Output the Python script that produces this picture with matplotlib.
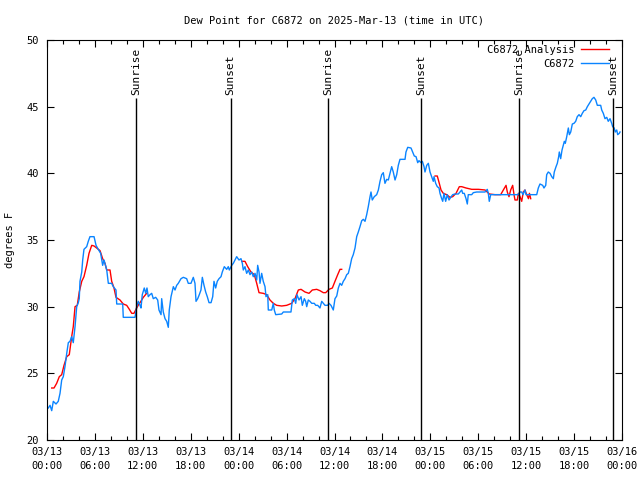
import matplotlib
matplotlib.use("Agg")
import matplotlib.pyplot as plt
import matplotlib.dates as mdates
import numpy as np
import pandas as pd

# --- data (hours after 2025-03-13 00:00 UTC, dew point in F) ---
start = pd.Timestamp("2025-03-13 00:00")

obs_hours = [
    0.16, 0.38, 0.59, 0.79, 1.13, 1.41, 1.63, 1.84, 2.04, 2.25, 2.47, 2.67, 2.88, 3.09, 3.29,
    3.51, 3.72, 3.92, 4.04, 4.13, 4.35, 4.47, 4.63, 4.97, 5.17, 5.38, 5.89, 6.14, 6.42, 6.72,
    6.97, 7.14, 7.48, 7.68, 8.10, 8.30, 8.64, 8.73, 9.48, 9.55, 11.02, 11.23, 11.43, 11.65,
    11.77, 11.93, 12.18, 12.36, 12.52, 12.68, 12.90, 13.11, 13.31, 13.61, 13.86, 14.02, 14.28,
    14.36, 14.56, 14.78, 14.99, 15.19, 15.31, 15.53, 15.82, 16.03, 16.24, 16.44, 16.78, 17.07,
    17.49, 17.69, 18.03, 18.32, 18.53, 18.66, 18.87, 19.07, 19.28, 19.45, 19.66, 19.87, 20.07,
    20.29, 20.54, 20.75, 20.91, 21.12, 21.32, 21.54, 21.79, 21.95, 22.20, 22.50, 22.70, 22.83,
    23.13, 23.33, 23.54, 23.75, 24.04, 24.29, 24.46, 24.58, 24.79, 25.00, 25.21, 25.42, 25.63,
    25.83, 26.05, 26.26, 26.38, 26.55, 26.67, 26.88, 27.08, 27.30, 27.42, 27.64, 27.71, 28.14,
    28.34, 28.46, 28.64, 29.39, 29.59, 30.55, 30.72, 30.97, 31.14, 31.30, 31.56, 31.81, 31.97,
    32.22, 32.39, 32.52, 32.72, 32.93, 33.15, 33.47, 33.65, 33.90, 34.18, 34.40, 34.60, 34.81,
    35.15, 35.31, 35.56, 35.85, 36.06, 36.28, 36.48, 36.69, 36.90, 37.10, 37.32, 37.53, 37.73,
    37.94, 38.15, 38.35, 38.57, 38.78, 38.98, 39.19, 39.41, 39.61, 39.82, 40.03, 40.23, 40.45,
    40.57, 40.73, 40.98, 41.28, 41.49, 41.70, 41.91, 42.11, 42.32, 42.54, 42.74, 42.95, 43.16,
    43.36, 43.58, 43.79, 43.99, 44.20, 44.83, 44.95, 45.17, 45.58, 45.79, 45.99, 46.21, 46.42,
    46.58, 46.83, 47.00, 47.21, 47.33, 47.55, 47.75, 47.96, 48.17, 48.37, 48.46, 48.67, 48.87,
    49.09, 49.21, 49.42, 49.55, 49.71, 49.92, 50.12, 50.34, 50.55, 50.80, 51.09, 51.50, 51.72,
    51.93, 52.05, 52.25, 52.47, 52.63, 52.75, 53.18, 53.38, 53.81, 54.85, 55.13, 55.26, 55.38,
    55.56, 56.31, 57.98, 58.98, 59.23, 59.44, 59.60, 59.85, 59.98, 61.32, 61.52, 61.73, 62.07,
    62.23, 62.45, 62.57, 62.77, 62.99, 63.20, 63.40, 63.52, 63.74, 63.90, 64.07, 64.15, 64.32,
    64.49, 64.65, 64.78, 64.90, 65.08, 65.28, 65.41, 65.58, 65.78, 65.99, 66.20, 66.40, 66.62,
    66.83, 67.03, 67.24, 67.46, 67.66, 67.87, 68.08, 68.28, 68.49, 68.71, 68.91, 69.33, 69.46,
    69.66, 69.87, 70.09, 70.28, 70.50, 70.71, 70.83, 71.02, 71.16, 71.34, 71.46, 71.66, 71.75,
]
obs_dewpt = [
    22.4, 22.6, 22.2, 22.9, 22.7, 22.9, 23.5, 24.5, 24.75, 25.5, 26.5, 27.3, 27.4, 27.75, 27.3,
    28.5, 30.0, 30.3, 30.6, 31.9, 32.6, 33.5, 34.3, 34.5, 34.9, 35.25, 35.25, 34.6, 34.3, 34.0,
    33.1, 33.5, 32.75, 31.75, 31.75, 31.5, 31.25, 30.2, 30.2, 29.2, 29.2, 30.0, 30.4, 30.1,
    29.9, 30.9, 31.4, 31.0, 31.4, 30.75, 30.9, 31.0, 30.6, 30.7, 30.5, 29.75, 29.4,
    30.6, 29.6, 29.1, 28.9, 28.45, 29.75, 30.75, 31.5, 31.25, 31.6, 31.75, 32.1, 32.2,
    32.1, 31.75, 31.75, 32.2, 31.75, 30.4, 30.6, 30.9, 31.25, 32.2, 31.6, 31.1, 30.75,
    30.3, 30.3, 30.75, 31.9, 31.4, 31.9, 32.1, 32.25, 32.6, 33.0, 32.8, 33.0, 32.75,
    33.1, 33.25, 33.5, 33.75, 33.5, 33.6, 33.25, 32.75, 33.0, 32.5, 32.75, 32.4, 32.6,
    32.25, 32.5, 32.0, 33.1, 32.6, 31.75, 32.5, 31.9, 31.5, 30.75, 30.9, 29.75, 29.75,
    30.25, 29.75, 29.4, 29.45, 29.6, 29.6, 30.5, 30.6, 30.25, 30.9, 30.5, 30.75, 30.1,
    30.6, 30.4, 30.0, 30.5, 30.4, 30.25, 30.25, 30.1, 30.1, 29.9, 30.4, 30.25, 30.1,
    30.1, 30.25, 30.1, 29.75, 30.6, 30.8, 31.4, 31.75, 31.6, 31.9, 32.1, 32.4, 32.5,
    33.0, 33.6, 33.9, 34.4, 35.25, 35.6, 36.0, 36.45, 36.55, 36.4, 36.9, 37.5, 38.25,
    38.6, 38.0, 38.25, 38.4, 38.75, 39.4, 39.9, 40.05, 39.25, 39.55, 39.5, 40.0, 40.5,
    40.1, 39.5, 39.9, 40.6, 41.05, 41.05, 41.6, 41.95, 41.9, 41.6, 41.3, 41.25, 40.8,
    40.95, 40.8, 40.9, 40.5, 40.1, 40.6, 40.75, 40.1, 39.75, 39.4, 39.75, 39.25, 39.0,
    38.9, 38.5, 38.1, 37.9, 38.5, 37.9, 38.4, 38.0, 38.2, 38.4, 38.45, 38.45, 38.6,
    38.75, 38.5, 38.5, 38.1, 37.7, 38.4, 38.4, 38.55, 38.6, 38.6, 38.8, 38.5, 37.9,
    38.4, 38.4, 38.4, 38.4, 38.6, 38.6, 38.4, 38.75, 38.4, 38.4, 38.9, 39.2, 39.1,
    38.9, 39.1, 39.9, 40.1, 40.0, 39.75, 39.6, 40.1, 40.5, 40.75, 41.25, 41.6, 41.1,
    41.75, 42.1, 42.4, 42.25, 42.75, 43.4, 42.9, 43.1, 43.7, 43.75, 43.9, 44.25, 44.4,
    44.25, 44.5, 44.7, 44.75, 45.0, 45.2, 45.4, 45.6, 45.7, 45.5, 45.1, 45.1, 44.75,
    44.5, 44.1, 44.2, 43.9, 44.1, 43.75, 43.5, 43.4, 43.1, 43.25, 42.9, 43.0, 43.1,
]

# analysis has gaps (NaN breaks the line)
ana_hours = [
    0.59, 0.88, 1.21, 1.54, 1.84, 2.13, 2.47, 2.79, 3.09, 3.29, 3.51, 3.79, 4.04, 4.35, 4.63,
    4.97, 5.26, 5.60, 5.89, 6.22, 6.64, 6.97, 7.26, 7.48, 7.89, 8.10, 8.39, 8.64, 9.14, 9.55,
    9.98, 10.31, 10.61, 10.89, 11.23, 11.56, 11.65, 12.06, 12.48,
    18.0,
    24.38, 24.79, 25.13, 25.54, 25.96, 26.26, 26.55, 27.08, 27.51, 27.92, 28.34, 28.76, 29.39,
    30.01, 30.64, 31.05, 31.47, 31.81, 32.31, 32.81, 33.22, 33.77, 34.18, 34.60, 34.90, 35.31,
    35.73, 36.06, 36.40, 36.69, 36.90,
    42.0,
    48.59, 48.87, 49.12, 49.34, 49.62, 50.05, 50.46, 50.80, 51.22, 51.63, 51.93, 52.47, 53.18,
    54.01, 54.85, 55.38, 56.10, 56.81, 57.14, 57.48, 57.64, 57.85, 58.06, 58.31, 58.48, 58.60,
    58.89, 59.02, 59.23, 59.44, 59.64, 59.85, 60.07, 60.29, 60.41, 60.57,
]
ana_dewpt = [
    23.9, 23.9, 24.25, 24.75, 24.9, 25.6, 26.25, 26.4, 27.75, 28.5, 30.0, 30.1, 31.1, 31.9, 32.25,
    33.1, 34.0, 34.6, 34.55, 34.4, 34.2, 33.6, 33.25, 32.75, 32.75, 31.9, 31.4, 30.7, 30.5, 30.2,
    30.1, 29.8, 29.5, 29.5, 29.9, 30.25, 30.3, 30.7, 31.0,
    np.nan,
    33.4, 33.4, 33.0, 32.6, 32.4, 31.75, 31.05, 31.0, 30.9, 30.5, 30.25, 30.1, 30.05,
    30.1, 30.25, 30.6, 31.25, 31.3, 31.1, 31.0, 31.25, 31.3, 31.2, 31.05, 31.05, 31.3,
    31.4, 31.9, 32.4, 32.8, 32.8,
    np.nan,
    39.8, 39.8, 39.25, 38.75, 38.5, 38.4, 38.2, 38.25, 38.5, 39.0, 39.0, 38.9, 38.8,
    38.8, 38.75, 38.45, 38.4, 38.4, 38.75, 39.1, 38.6, 38.25, 38.75, 39.1, 38.4, 38.0,
    38.0, 38.5, 38.25, 37.9, 38.6, 38.75, 38.4, 38.1, 38.5, 38.1,
]

sun_hours = [11.14, 23.0, 35.16, 46.87, 59.14, 70.92]
sun_labels = ["Sunrise", "Sunset", "Sunrise", "Sunset", "Sunrise", "Sunset"]

station = "C6872"

obs_t = start + pd.to_timedelta(obs_hours, unit="h")
ana_t = start + pd.to_timedelta(ana_hours, unit="h")
sun_t = start + pd.to_timedelta(sun_hours, unit="h")

plt.rcParams["font.family"] = ["DejaVu Sans Mono"]
plt.rcParams["font.size"] = 7.5

fig = plt.figure(figsize=(6.4, 4.8), dpi=100)
ax = fig.add_axes([47 / 640, 40 / 480, 575 / 640, 400 / 480])

ax.plot(ana_t, ana_dewpt, color="#ff0000", lw=1.0, label=f"{station} Analysis")
ax.plot(obs_t, obs_dewpt, color="#0a84ff", lw=1.0, label=station)

# sunrise / sunset markers
ax.vlines(sun_t, 20, 45.65, color="black", lw=1.0)
for t, lab in zip(sun_t, sun_labels):
    ax.text(t, 45.85, lab, rotation=90, ha="center", va="bottom", fontsize=8)

ax.set_xlim(start, start + pd.Timedelta(hours=72))
ax.set_ylim(20, 50)
ax.set_yticks(np.arange(20, 51, 5))

ax.xaxis.set_major_locator(mdates.HourLocator(byhour=range(0, 24, 6)))
ax.xaxis.set_minor_locator(mdates.HourLocator(byhour=range(0, 24, 2)))
ax.xaxis.set_major_formatter(mdates.DateFormatter("%m/%d\n%H:%M"))
for lbl in ax.get_xticklabels():
    lbl.set_linespacing(1.5)

ax.tick_params(which="both", direction="in", top=True, right=True, width=0.8, color="black")
ax.tick_params(which="major", length=5)
ax.tick_params(which="minor", length=3)
ax.tick_params(axis="x", pad=5)
ax.tick_params(axis="y", pad=6)
for s in ax.spines.values():
    s.set_linewidth(0.8)

ax.set_title(f"Dew Point for {station} on 2025-Mar-13 (time in UTC)", fontsize=7.5, pad=12)
ax.set_ylabel("degrees F")
ax.yaxis.set_label_coords(-0.056, 0.5)

ax.legend(loc="upper right", bbox_to_anchor=(0.977, 0.988), frameon=False,
          markerfirst=False, handlelength=2.7, handletextpad=0.6,
          borderpad=0, borderaxespad=0, labelspacing=0.4)

fig.savefig("out.png", dpi=100)
